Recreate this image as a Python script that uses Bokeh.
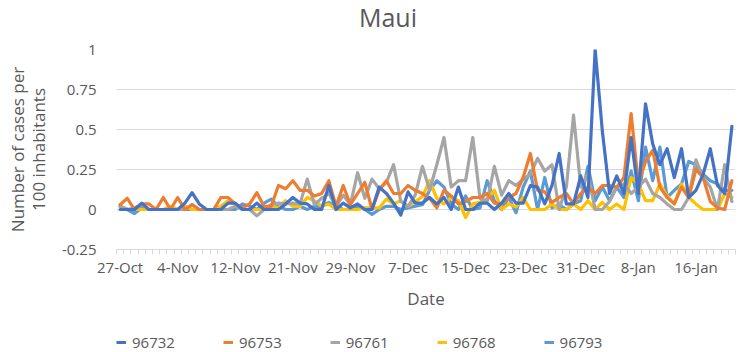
from bokeh.plotting import figure
from bokeh.layouts import column
from bokeh.models import (Range1d, FixedTicker, CustomJSTickFormatter, Legend,
                          LegendItem, Label)
from bokeh.embed import file_html
from bokeh.resources import INLINE

DATES = [
    "27-Oct", "28-Oct", "29-Oct", "30-Oct", "31-Oct",
    "1-Nov", "2-Nov", "3-Nov", "4-Nov", "5-Nov", "6-Nov", "7-Nov", "8-Nov", "9-Nov",
    "10-Nov", "11-Nov", "12-Nov", "13-Nov", "15-Nov", "16-Nov", "17-Nov", "18-Nov",
    "19-Nov", "20-Nov", "21-Nov", "22-Nov", "23-Nov", "24-Nov", "25-Nov", "26-Nov",
    "27-Nov", "28-Nov", "29-Nov", "30-Nov",
    "1-Dec", "2-Dec", "3-Dec", "4-Dec", "5-Dec", "6-Dec", "7-Dec", "8-Dec", "9-Dec",
    "10-Dec", "11-Dec", "12-Dec", "13-Dec", "14-Dec", "15-Dec", "16-Dec", "17-Dec",
    "18-Dec", "19-Dec", "20-Dec", "21-Dec", "22-Dec", "23-Dec", "24-Dec", "25-Dec",
    "26-Dec", "27-Dec", "28-Dec", "29-Dec", "30-Dec", "31-Dec",
    "1-Jan", "2-Jan", "3-Jan", "4-Jan", "5-Jan", "6-Jan", "7-Jan", "8-Jan", "9-Jan",
    "10-Jan", "11-Jan", "12-Jan", "13-Jan", "14-Jan", "15-Jan", "16-Jan", "17-Jan",
    "18-Jan", "19-Jan", "20-Jan", "21-Jan",
]

S96732 = [0, 0, 0, 0.04, 0, 0, 0, 0, 0, 0.04,
          0.105, 0.035, 0, 0, 0, 0.04, 0.04, 0, 0, 0.04,
          0, 0, 0, 0.035, 0.075, 0.04, 0.035, 0, 0, 0.15,
          0, 0.04, 0.01, 0.035, 0, 0, 0.14, 0.1, 0.04, -0.035,
          0.11, 0.04, 0.04, 0.075, 0.035, 0.075, 0, 0.14, 0, 0,
          0.04, 0.04, 0, 0.04, 0.1, 0.04, 0.04, 0.15, 0.14, 0.035,
          0.15, 0.35, 0.035, 0.035, 0.21, 0.075, 1.0, 0.49, 0.1, 0.21,
          0.1, 0.45, 0.1, 0.66, 0.41, 0.28, 0.38, 0.2, 0.38, 0.075,
          0.12, 0.22, 0.38, 0.15, 0.1, 0.52]
S96753 = [0.03, 0.07, 0, 0.035, 0.035, 0, 0.075, 0, 0.075, 0,
          0.03, 0, 0, 0, 0.075, 0.075, 0.035, 0.01, 0.035, 0.105,
          0.02, 0.02, 0.15, 0.13, 0.18, 0.12, 0.12, 0.085, 0.1, 0.18,
          0.02, 0.15, 0.03, 0.1, 0.17, 0, 0.12, 0.18, 0.1, 0.1,
          0.15, 0.12, 0.1, 0.07, 0.01, 0.12, 0.085, 0.035, 0.05, 0.075,
          0.075, 0.1, 0.04, 0.035, 0.075, 0.1, 0.2, 0.35, 0.12, 0.11,
          0.045, 0.075, 0.1, 0.035, 0.1, 0.14, 0.1, 0.15, 0.15, 0.14,
          0.2, 0.6, 0.16, 0.3, 0.37, 0.14, 0.075, 0.035, 0.14, 0.075,
          0.25, 0.2, 0.05, 0.01, 0, 0.18]
S96761 = [0.02, 0, 0.01, 0.03, 0, 0, 0, 0, 0, 0,
          0.03, 0, 0, 0, 0, 0, 0.02, 0, 0, -0.04,
          0, 0.03, 0.04, 0.035, 0.04, 0.035, 0.19, 0.03, 0.07, 0.1,
          0.02, 0.09, 0.03, 0.23, 0.07, 0.19, 0.13, 0.17, 0.28, 0.05,
          0.02, 0.09, 0.27, 0.12, 0.28, 0.45, 0.14, 0.18, 0.18, 0.45,
          0.07, 0.05, 0.27, 0.09, 0.18, 0.15, 0.19, 0.22, 0.32, 0.24,
          0.28, 0, 0.14, 0.59, 0.14, 0.22, 0, 0, 0.05, 0.14,
          0.16, 0.1, 0.14, 0.19, 0.1, 0.075, 0.035, 0, 0, 0.075,
          0.31, 0.2, 0.14, 0, 0.28, 0.05]
S96768 = [0.02, 0, 0, 0, 0, 0, 0, 0.02, 0, 0.02,
          0, 0, 0, 0, 0.02, 0.055, 0.035, 0, 0, 0,
          0, 0.02, 0.01, 0.055, 0.02, 0.02, 0.075, 0.055, 0.02, 0.035,
          0, 0, 0, 0, 0.01, 0.01, 0.01, 0.065, 0.035, 0.055,
          0.02, 0.05, 0.08, 0.18, 0.07, 0.035, 0.075, 0.055, -0.05, 0.035,
          0.045, 0.07, 0.12, 0, 0.035, 0.015, 0.075, 0, 0, 0,
          0.035, 0, 0, 0.035, 0, 0.055, 0, 0.045, 0, 0.035,
          0, 0.2, 0.16, 0.055, 0.055, 0.16, 0.085, 0.035, 0.16, 0.075,
          0.035, 0, 0, 0, 0.1, 0.075]
S96793 = [0.02, 0, -0.025, 0.01, 0, 0, 0, 0, 0, 0,
          0, 0, 0, 0, 0, 0, 0, 0.035, 0.02, 0,
          0.04, 0.065, 0.02, 0, 0, 0.02, 0, 0.02, 0.02, 0.045,
          0.02, 0, 0, 0.02, 0, -0.03, 0, 0.02, 0.02, 0,
          0.01, 0.02, 0.03, 0.12, 0.18, 0.14, 0.035, 0, 0.085, 0,
          0.01, 0.18, 0.055, 0, 0.075, -0.02, 0.14, 0.24, 0, 0.2,
          0.01, 0.03, 0, 0.035, 0.055, 0.27, 0.055, 0.14, 0.055, 0.14,
          0.075, 0.24, 0.055, 0.39, 0.18, 0.39, 0.075, 0.12, 0.16, 0.3,
          0.28, 0.22, 0.18, 0.16, 0.12, 0.12]

SERIES_NAMES = ["96732", "96753", "96761", "96768", "96793"]
SERIES_VALUES = [S96732, S96753, S96761, S96768, S96793]
COLORS = ["#4472C4", "#ED7D31", "#A5A5A5", "#FFC000", "#5B9BD5"]

TITLE = "Maui"
X_TITLE = "Date"
Y_TITLE = "Number of cases per\n100 inhabitants"
Y_TICKS = [-0.25, 0, 0.25, 0.5, 0.75, 1]
LABEL_EVERY = 8

FONT = "Open Sans"
TXT = "#595959"
GRID = "#d9d9d9"
W = 738
LEFT = 116
RIGHT = 3
TITLE_H = 36
MAIN_H = 283
LEG_H = 33

n = len(DATES)
xs = [i + 0.5 for i in range(n)]
NAN = float("nan")


def strip(h):
    f = figure(width=W, height=h, output_backend="svg", toolbar_location=None,
               x_range=Range1d(LEFT, W - RIGHT), y_range=Range1d(0, h),
               x_axis_location=None, y_axis_location=None,
               min_border_left=LEFT, min_border_right=RIGHT, min_border_top=0,
               min_border_bottom=0)
    f.grid.visible = False
    f.outline_line_color = None
    f.background_fill_color = "white"
    f.border_fill_color = "white"
    return f


# ---- title strip
pt = strip(TITLE_H)
pt.add_layout(Label(x=387.5, y=19.5, text=TITLE, text_font=FONT,
                    text_font_size="25px", text_color=TXT, text_align="center",
                    text_baseline="middle"))

# ---- main chart
p = figure(width=W, height=MAIN_H, output_backend="svg", toolbar_location=None,
           x_range=Range1d(0, n), y_range=Range1d(-0.25, 1.0),
           min_border_left=LEFT, min_border_right=RIGHT, min_border_top=13,
           min_border_bottom=70)
p.outline_line_color = None
p.background_fill_color = "white"
p.border_fill_color = "white"

for name, vals, col in reversed(list(zip(SERIES_NAMES, SERIES_VALUES, COLORS))):
    p.line(xs, vals, line_width=3.2, line_color=col, line_join="round",
           line_cap="round")

xa = p.xaxis[0]
xa.ticker = FixedTicker(ticks=[i + 0.5 for i in range(0, n, LABEL_EVERY)],
                        minor_ticks=list(range(0, n + 1)))
xa.formatter = CustomJSTickFormatter(args=dict(labels=DATES),
                                     code="return labels[Math.floor(tick)];")
xa.axis_line_color = GRID
xa.major_tick_line_color = None
xa.major_tick_out = 0
xa.major_tick_in = 0
xa.minor_tick_line_color = GRID
xa.minor_tick_in = 0
xa.minor_tick_out = 5
xa.major_label_text_font = FONT
xa.major_label_text_font_size = "15px"
xa.major_label_text_color = TXT
xa.major_label_standoff = 2
xa.axis_label = X_TITLE
xa.axis_label_text_font = FONT
xa.axis_label_text_font_size = "17px"
xa.axis_label_text_font_style = "normal"
xa.axis_label_text_color = TXT
xa.axis_label_standoff = 7
p.xgrid.grid_line_color = None

ya = p.yaxis[0]
ya.ticker = FixedTicker(ticks=Y_TICKS, minor_ticks=[])
ya.formatter = CustomJSTickFormatter(code="return tick.toString();")
ya.axis_line_color = None
ya.major_tick_line_color = None
ya.minor_tick_line_color = None
ya.major_tick_out = 0
ya.major_tick_in = 0
ya.major_label_text_font = FONT
ya.major_label_text_font_size = "15px"
ya.major_label_text_color = TXT
ya.major_label_standoff = 20
ya.axis_label = Y_TITLE
ya.axis_label_text_font = FONT
ya.axis_label_text_font_size = "17px"
ya.axis_label_text_font_style = "normal"
ya.axis_label_text_color = TXT
ya.axis_label_text_line_height = 0.9
ya.axis_label_standoff = 9
p.ygrid.ticker = FixedTicker(ticks=Y_TICKS)
p.ygrid.grid_line_color = GRID
p.ygrid.grid_line_width = 1

# ---- legend strip
pl = strip(LEG_H)
items = []
for name, col in zip(SERIES_NAMES, COLORS):
    r = pl.line(x=[NAN], y=[NAN], line_width=3, line_color=col)
    items.append(LegendItem(label=name, renderers=[r]))
legend = Legend(items=items, orientation="horizontal", location=(0, 0),
                glyph_width=10, glyph_height=18, label_height=18,
                label_standoff=6, spacing=48, padding=0, margin=0,
                border_line_color=None, background_fill_alpha=0,
                label_text_font=FONT, label_text_font_size="15px",
                label_text_color=TXT)
pl.add_layout(legend, "center")

layout = column(pt, p, pl, spacing=0)
open("out.html", "w").write(file_html(layout, INLINE))
